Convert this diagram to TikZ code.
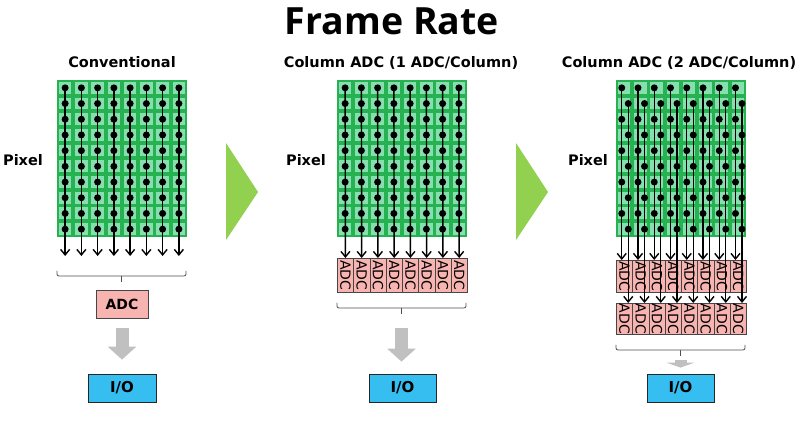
\documentclass[tikz,border=0pt]{standalone}
\usepackage{fontspec}
\setmainfont{DejaVu Sans}
\newfontfamily\titlefont{Open Sans}
\usetikzlibrary{arrows.meta,positioning,calc}

\definecolor{pixgreen}{RGB}{38,178,80}
\definecolor{cellmint}{RGB}{135,222,175}
\definecolor{chevgreen}{RGB}{146,208,80}
\definecolor{adcpink}{RGB}{248,180,176}
\definecolor{adcline}{RGB}{70,70,70}
\definecolor{iocyan}{RGB}{55,190,240}
\definecolor{flowgray}{RGB}{192,192,192}
\definecolor{bracegray}{RGB}{80,80,80}

\begin{document}
\begin{tikzpicture}[x=1pt, y=-1pt, font=\bfseries,
  >={Straight Barb[length=5.5pt,width=9pt]},
  pixblock/.style={fill=pixgreen, minimum width=130pt, minimum height=157pt,
                   inner sep=0pt, anchor=north west},
  dot/.style={circle, fill=black, inner sep=0pt, minimum size=7pt},
  col/.style={line width=1.4pt, ->},
  adcc/.style={draw=adcline, fill=adcpink, minimum width=16.25pt,
               inner sep=0pt, anchor=north west, line width=0.6pt,
               font=\fontsize{14}{14}\selectfont\mdseries},
  adcbox/.style={draw=adcline, fill=adcpink, minimum width=52pt, minimum height=28pt,
                 line width=0.7pt, font=\fontsize{14}{16}\selectfont\bfseries},
  iobox/.style={draw=black!85, fill=iocyan, minimum width=67pt, minimum height=28pt,
                line width=0.8pt, font=\fontsize{15}{18}\selectfont\bfseries},
  brace/.style={draw=bracegray, line width=0.8pt, rounded corners=2pt},
  flow/.style={draw=flowgray, line width=13pt, -{Triangle[length=13pt,width=28pt]}},
  lab/.style={font=\fontsize{14.5}{17}\selectfont\bfseries}]
  \useasboundingbox (0,0) rectangle (800,427);

  \node[font=\titlefont\fontsize{37.5}{40}\selectfont\bfseries, anchor=base] (title) at (392,35) {Frame Rate};

  \node[lab, anchor=base] (h1) at (122,68) {Conventional};
  \node[lab, anchor=base] (h2) at (401,68) {Column ADC (1 ADC/Column)};
  \node[lab, anchor=base] (h3) at (679,68) {Column ADC (2 ADC/Column)};
  \node[lab] (px1) at (23,160) {Pixel};
  \node[lab] (px2) at (306,160) {Pixel};
  \node[lab] (px3) at (588,160) {Pixel};

  % pixel arrays
  \foreach \gx/\p in {57/1,337/2,616/3} {
    \node[pixblock] (g\p) at (\gx,80) {};
    \foreach \i in {1,...,8}
      \foreach \j in {1,...,10}
        \fill[cellmint] (\gx+\i*16.25-14.3, 80+\j*15.7-13.8) rectangle ++(12.35,11.8);
  }

  % readout: one ADC for all columns
  \foreach \i in {1,...,8} {
    \foreach \j in {1,...,10}
      \node[dot] (d1-\i-\j) at (57+\i*16.25-8.125, 80+\j*15.7-7.85) {};
    \coordinate (e1-\i) at (57+\i*16.25-8.125, 256);
    \draw[col] (d1-\i-1.center) -- (e1-\i);
  }
  \draw[brace] (57,271) -- (57,276) -- (186,276) -- (186,271);
  \draw[brace] (121.5,276) -- (121.5,282) coordinate (t1);
  \node[adcbox] (adc1) at (122,304) {ADC};
  \node[iobox, minimum width=68pt] (io1) at (122,388) {I/O};
  \draw[flow, shorten <=10pt, shorten >=14pt] (adc1) -- (io1);

  % one ADC per column
  \foreach \i in {1,...,8} {
    \node[adcc, minimum height=34pt] (a2-\i) at (337+\i*16.25-16.25,258) {\rotatebox{-90}{ADC}};
    \foreach \j in {1,...,10}
      \node[dot] (d2-\i-\j) at (337+\i*16.25-8.125, 80+\j*15.7-7.85) {};
    \draw[col] (d2-\i-1.center) -- (a2-\i.north);
  }
  \draw[brace] (337,303) -- (337,308) -- (466,308) -- (466,303);
  \draw[brace] (401.5,308) -- (401.5,314) coordinate (t2);
  \node[iobox] (io2) at (402.5,388) {I/O};
  \draw[flow, shorten <=14pt, shorten >=12pt] (t2) -- (t2 |- io2.north);

  % two ADCs per column
  \foreach \i in {1,...,8} {
    \node[adcc, minimum height=32pt] (b1-\i) at (616+\i*16.25-16.25,260) {\rotatebox{-90}{ADC}};
    \node[adcc, minimum height=31pt] (b2-\i) at (616+\i*16.25-16.25,303) {\rotatebox{-90}{ADC}};
    \foreach \j in {1,3,...,9}
      \node[dot] (d3-\i-\j) at (616+\i*16.25-10.5, 80+\j*15.7-7.85) {};
    \foreach \j in {2,4,...,10}
      \node[dot] (d3-\i-\j) at (616+\i*16.25-4.0, 80+\j*15.7-7.85) {};
    \draw[col] (d3-\i-1.center) -- (d3-\i-1 |- b1-\i.north);
    \draw[col] (d3-\i-2.center) -- (d3-\i-2 |- b2-\i.north);
  }
  \draw[brace] (616,345) -- (616,350) -- (745,350) -- (745,345);
  \draw[brace] (680.5,350) -- (680.5,356) coordinate (t3);
  \node[iobox] (io3) at (680.5,388) {I/O};
  \draw[draw=flowgray, line width=12pt, -{Triangle[length=5pt,width=28pt]},
        shorten <=4pt, shorten >=6pt] (t3) -- (t3 |- io3.north);

  \fill[chevgreen] (226,143) -- (258,192) -- (226,240) -- cycle;
  \fill[chevgreen] (516,143) -- (548,192) -- (516,240) -- cycle;
\end{tikzpicture}
\end{document}
